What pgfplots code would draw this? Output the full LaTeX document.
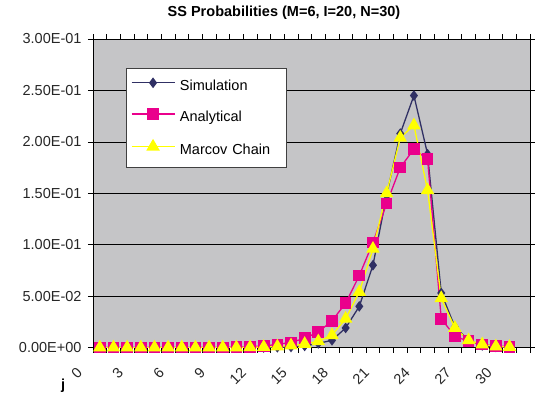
\documentclass[border=0pt]{standalone}
\usepackage{pgfplots}
\pgfplotsset{compat=1.18}
\usepackage{fontspec}
\setmainfont{Liberation Sans}
\definecolor{simc}{RGB}{48,48,100}
\definecolor{anac}{RGB}{234,0,140}
\definecolor{marc}{RGB}{255,255,0}
\definecolor{plotbg}{RGB}{197,197,199}
\newcommand{\tfont}{\fontsize{14.5}{17}\selectfont}
\begin{document}
\begin{tikzpicture}[x=1pt,y=1pt]
\useasboundingbox (0,0) rectangle (535,402);
\begin{axis}[
  at={(93pt,54.5pt)}, anchor=south west,
  scale only axis, width=437pt, height=308.5pt,
  xmin=-0.5, xmax=31.5, ymin=0, ymax=0.3,
  axis background/.style={fill=plotbg},
  axis line style={black, line width=0.7pt},
  tick align=outside,
  major tick length=5pt,
  minor tick length=5pt,
  tick style={black, line width=0.6pt},
  ytick={0,0.05,0.1,0.15,0.2,0.25,0.3},
  yticklabels={0.00E+00,5.00E-02,1.00E-01,1.50E-01,2.00E-01,2.50E-01,3.00E-01},
  xtick={-0.5,2.5,...,29.5},
  xticklabels={0,3,6,9,12,15,18,21,24,27,30},
  minor xtick={0.5,1.5,...,31.5},
  ymajorgrids, grid style={black, line width=0.6pt},
  ticklabel style={font=\tfont, text=black!85},
  yticklabel style={xshift=-3pt},
  xticklabel style={rotate=45, anchor=north east, xshift=-18.5pt, yshift=5.5pt},
  title={SS Probabilities (M=6, I=20, N=30)},
  title style={at={(0.437,1)}, anchor=base, yshift=17pt, font=\bfseries\tfont},
  xlabel={j},
  xlabel style={at={(axis description cs:-0.0686,-0.125)}, anchor=center, font=\bfseries\tfont},
  legend cell align=left,
  legend style={at={(0.0755,0.905)}, anchor=north west, draw=black!75, fill=white,
    font=\tfont, inner xsep=4.7pt, inner ysep=10pt,
    nodes={inner sep=0pt, text height=10.5pt, text depth=3pt},
    column sep=4.7pt, row sep=15.5pt,
    /tikz/every even column/.append style={text width=102pt}},
  legend image code/.code={\draw[mark repeat=2,mark phase=2,#1] plot coordinates {(0pt,3.8pt) (21.5pt,3.8pt) (43pt,3.8pt)};},
]
\addplot[simc, line width=1.3pt, mark=diamond*, mark size=4.3pt, mark options={solid, fill=simc, draw=simc}] coordinates {
(0,0) (1,0) (2,0) (3,0) (4,0) (5,0) (6,0) (7,0) (8,0) (9,0) (10,0)
(11,0) (12,0) (13,0.0002) (14,0.0005) (15,0.0015) (16,0.004) (17,0.007)
(18,0.019) (19,0.040) (20,0.080) (21,0.148) (22,0.208) (23,0.245) (24,0.188)
(25,0.053) (26,0.020) (27,0.007) (28,0.002) (29,0.0005) (30,0.0002)};
\addlegendentry{Simulation}
\addplot[anac, line width=1.3pt, mark=square*, mark size=5.2pt, mark options={solid, fill=anac, draw=anac}] coordinates {
(0,0) (1,0) (2,0) (3,0) (4,0) (5,0) (6,0) (7,0) (8,0) (9,0) (10,0.0003)
(11,0.0008) (12,0.0015) (13,0.003) (14,0.005) (15,0.009) (16,0.015) (17,0.026)
(18,0.043) (19,0.070) (20,0.102) (21,0.140) (22,0.175) (23,0.193) (24,0.183)
(25,0.028) (26,0.011) (27,0.006) (28,0.003) (29,0.0015) (30,0.0008)};
\addlegendentry{Analytical}
\addplot[marc, line width=1.3pt, mark=triangle*, mark size=6.5pt, mark options={solid, fill=marc, draw=marc}] coordinates {
(0,0) (1,0) (2,0) (3,0) (4,0) (5,0) (6,0) (7,0) (8,0) (9,0) (10,0)
(11,0.0002) (12,0.0005) (13,0.001) (14,0.002) (15,0.0035) (16,0.006) (17,0.012)
(18,0.028) (19,0.054) (20,0.096) (21,0.150) (22,0.204) (23,0.216) (24,0.153)
(25,0.048) (26,0.019) (27,0.007) (28,0.003) (29,0.001) (30,0.0005)};
\addlegendentry{Marcov Chain}
\end{axis}
\end{tikzpicture}
\end{document}
